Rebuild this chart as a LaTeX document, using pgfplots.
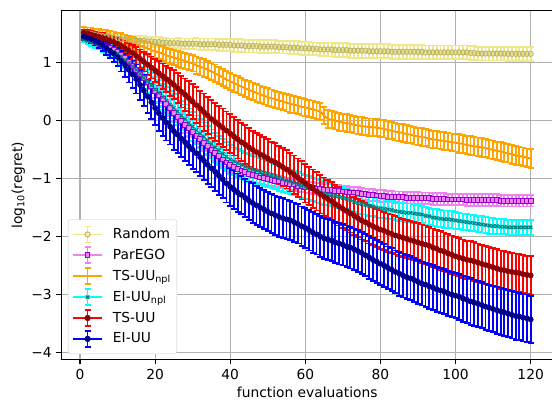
\documentclass[border=0pt]{standalone}
\usepackage{fontspec}
\setmainfont{DejaVu Sans}
\usepackage{pgfplots}
\pgfplotsset{compat=1.18}
\usepackage{pgfplotstable}

\definecolor{khaki}{HTML}{F0E68C}
\definecolor{darkkhaki}{HTML}{BDB76B}
\definecolor{violet}{HTML}{EE82EE}
\definecolor{darkviolet}{HTML}{9400D3}
\definecolor{orange}{HTML}{FFA500}
\definecolor{darkorange}{HTML}{FF8C00}
\definecolor{cyan}{HTML}{00FFFF}
\definecolor{teal}{HTML}{008080}
\definecolor{red}{HTML}{FF0000}
\definecolor{darkred}{HTML}{8B0000}
\definecolor{blue}{HTML}{0000FF}
\definecolor{navy}{HTML}{00008B}
\definecolor{gridgray}{HTML}{B0B0B0}
\definecolor{legendgray}{HTML}{CCCCCC}

% legend image: line, error bar with caps, mark
\newcommand{\legimg}[3]{%
  \draw[#1, line width=1.8pt] (0pt,0pt) -- (29pt,0pt);
  \draw[#1, line width=1.8pt] (14.5pt,-8pt) -- (14.5pt,8pt);
  \draw[#1, line width=1.8pt] (11.5pt,-8pt) -- (17.5pt,-8pt);
  \draw[#1, line width=1.8pt] (11.5pt,8pt) -- (17.5pt,8pt);
  \draw[#2] plot[mark=#3] coordinates {(14.5pt,0pt)};
}

% x, mean and error of each method
\pgfplotstableread{
x R Re P Pe O Oe C Ce T Te B Be
1 1.52 0.05 1.43 0.04 1.58 0.04 1.40 0.05 1.52 0.05 1.45 0.05
2 1.51 0.05 1.41 0.05 1.57 0.04 1.38 0.06 1.51 0.06 1.43 0.06
3 1.50 0.05 1.39 0.05 1.56 0.05 1.36 0.07 1.49 0.06 1.41 0.07
4 1.48 0.06 1.37 0.06 1.54 0.05 1.34 0.08 1.47 0.07 1.38 0.08
5 1.47 0.06 1.34 0.06 1.53 0.06 1.31 0.08 1.45 0.07 1.35 0.09
6 1.46 0.06 1.31 0.07 1.51 0.06 1.28 0.09 1.43 0.08 1.31 0.10
7 1.45 0.06 1.28 0.07 1.50 0.07 1.25 0.10 1.41 0.08 1.26 0.12
8 1.44 0.07 1.25 0.07 1.48 0.07 1.22 0.10 1.38 0.09 1.21 0.13
9 1.43 0.07 1.22 0.08 1.46 0.08 1.19 0.11 1.36 0.09 1.16 0.14
10 1.42 0.07 1.19 0.08 1.44 0.08 1.16 0.12 1.33 0.10 1.10 0.16
11 1.41 0.07 1.14 0.09 1.42 0.09 1.11 0.13 1.29 0.11 1.03 0.18
12 1.41 0.07 1.08 0.09 1.40 0.09 1.05 0.14 1.25 0.12 0.96 0.20
13 1.40 0.07 1.02 0.10 1.37 0.10 1.00 0.15 1.21 0.13 0.88 0.22
14 1.39 0.07 0.95 0.10 1.35 0.10 0.94 0.16 1.17 0.14 0.80 0.24
15 1.39 0.07 0.88 0.11 1.32 0.10 0.88 0.17 1.12 0.15 0.72 0.25
16 1.38 0.08 0.81 0.11 1.30 0.11 0.81 0.18 1.07 0.16 0.62 0.26
17 1.38 0.08 0.74 0.12 1.27 0.11 0.74 0.19 1.02 0.17 0.52 0.27
18 1.37 0.08 0.67 0.12 1.25 0.11 0.68 0.20 0.97 0.18 0.42 0.28
19 1.37 0.08 0.60 0.13 1.22 0.12 0.61 0.21 0.92 0.19 0.32 0.29
20 1.36 0.08 0.52 0.13 1.20 0.12 0.54 0.22 0.87 0.20 0.22 0.30
21 1.36 0.08 0.44 0.14 1.18 0.12 0.48 0.22 0.82 0.21 0.13 0.30
22 1.35 0.08 0.37 0.14 1.16 0.13 0.41 0.23 0.77 0.22 0.05 0.31
23 1.35 0.08 0.29 0.14 1.13 0.13 0.35 0.23 0.72 0.23 -0.03 0.31
24 1.34 0.08 0.22 0.14 1.11 0.13 0.28 0.24 0.67 0.24 -0.10 0.31
25 1.34 0.08 0.14 0.14 1.09 0.13 0.22 0.24 0.62 0.25 -0.18 0.32
26 1.34 0.09 0.07 0.14 1.07 0.14 0.16 0.24 0.56 0.26 -0.24 0.32
27 1.33 0.09 0.00 0.14 1.05 0.14 0.09 0.25 0.50 0.27 -0.31 0.32
28 1.33 0.09 -0.07 0.14 1.03 0.14 0.03 0.25 0.45 0.28 -0.37 0.33
29 1.33 0.09 -0.13 0.14 1.01 0.14 -0.04 0.25 0.39 0.29 -0.44 0.33
30 1.33 0.09 -0.20 0.14 0.99 0.14 -0.10 0.25 0.33 0.30 -0.50 0.33
31 1.33 0.10 -0.26 0.13 0.96 0.15 -0.16 0.25 0.27 0.31 -0.56 0.33
32 1.32 0.10 -0.32 0.13 0.93 0.15 -0.22 0.25 0.21 0.31 -0.63 0.33
33 1.32 0.10 -0.38 0.13 0.91 0.15 -0.28 0.25 0.15 0.32 -0.69 0.33
34 1.32 0.10 -0.44 0.13 0.88 0.15 -0.34 0.25 0.09 0.32 -0.76 0.33
35 1.32 0.10 -0.50 0.13 0.85 0.15 -0.40 0.25 0.03 0.33 -0.82 0.33
36 1.32 0.10 -0.56 0.12 0.82 0.15 -0.46 0.25 -0.02 0.33 -0.88 0.33
37 1.31 0.10 -0.61 0.12 0.78 0.15 -0.51 0.25 -0.07 0.33 -0.95 0.33
38 1.31 0.10 -0.67 0.12 0.75 0.15 -0.57 0.25 -0.12 0.33 -1.01 0.33
39 1.31 0.10 -0.72 0.12 0.71 0.15 -0.62 0.25 -0.17 0.33 -1.08 0.33
40 1.31 0.10 -0.77 0.12 0.68 0.15 -0.67 0.25 -0.22 0.33 -1.14 0.33
41 1.30 0.11 -0.80 0.11 0.65 0.15 -0.70 0.24 -0.27 0.33 -1.19 0.33
42 1.30 0.11 -0.83 0.11 0.62 0.15 -0.73 0.24 -0.32 0.33 -1.24 0.33
43 1.30 0.11 -0.86 0.11 0.59 0.15 -0.76 0.24 -0.37 0.33 -1.28 0.33
44 1.29 0.11 -0.89 0.11 0.56 0.15 -0.79 0.24 -0.41 0.33 -1.33 0.33
45 1.29 0.11 -0.92 0.11 0.53 0.15 -0.82 0.24 -0.46 0.33 -1.38 0.33
46 1.29 0.11 -0.94 0.11 0.51 0.15 -0.84 0.23 -0.50 0.33 -1.42 0.34
47 1.29 0.11 -0.96 0.11 0.48 0.15 -0.86 0.23 -0.54 0.33 -1.46 0.34
48 1.28 0.11 -0.98 0.11 0.46 0.15 -0.88 0.23 -0.58 0.33 -1.50 0.34
49 1.28 0.11 -0.99 0.11 0.43 0.15 -0.90 0.23 -0.61 0.33 -1.53 0.34
50 1.28 0.11 -1.01 0.11 0.41 0.15 -0.92 0.23 -0.65 0.33 -1.57 0.34
51 1.28 0.11 -1.02 0.10 0.39 0.15 -0.94 0.22 -0.69 0.33 -1.60 0.34
52 1.28 0.11 -1.04 0.10 0.37 0.15 -0.96 0.22 -0.72 0.33 -1.63 0.34
53 1.27 0.11 -1.05 0.10 0.35 0.15 -0.99 0.22 -0.76 0.33 -1.66 0.34
54 1.27 0.11 -1.07 0.10 0.33 0.15 -1.01 0.22 -0.80 0.33 -1.68 0.34
55 1.27 0.11 -1.08 0.10 0.31 0.15 -1.03 0.22 -0.84 0.33 -1.70 0.34
56 1.26 0.11 -1.09 0.10 0.29 0.15 -1.05 0.21 -0.89 0.33 -1.72 0.34
57 1.26 0.11 -1.10 0.10 0.28 0.15 -1.07 0.21 -0.93 0.33 -1.75 0.34
58 1.26 0.11 -1.12 0.10 0.26 0.15 -1.10 0.21 -0.98 0.33 -1.78 0.34
59 1.25 0.11 -1.13 0.10 0.24 0.15 -1.12 0.21 -1.03 0.33 -1.82 0.34
60 1.25 0.11 -1.14 0.10 0.23 0.15 -1.14 0.21 -1.08 0.33 -1.85 0.34
61 1.25 0.11 -1.15 0.10 0.21 0.15 -1.16 0.20 -1.13 0.33 -1.89 0.35
62 1.24 0.11 -1.16 0.10 0.20 0.15 -1.18 0.20 -1.17 0.33 -1.93 0.35
63 1.24 0.11 -1.17 0.10 0.18 0.15 -1.21 0.20 -1.22 0.33 -1.96 0.35
64 1.23 0.11 -1.18 0.10 0.16 0.15 -1.23 0.20 -1.27 0.33 -2.00 0.35
65 1.23 0.11 -1.19 0.10 0.09 0.15 -1.25 0.20 -1.31 0.33 -2.03 0.35
66 1.23 0.12 -1.19 0.10 0.03 0.15 -1.27 0.19 -1.35 0.33 -2.05 0.35
67 1.23 0.12 -1.20 0.10 0.02 0.15 -1.28 0.19 -1.39 0.33 -2.07 0.35
68 1.22 0.12 -1.21 0.10 0.00 0.15 -1.30 0.19 -1.44 0.33 -2.10 0.35
69 1.22 0.12 -1.21 0.10 -0.02 0.15 -1.31 0.19 -1.48 0.33 -2.12 0.36
70 1.22 0.12 -1.22 0.10 -0.03 0.15 -1.33 0.19 -1.52 0.33 -2.14 0.36
71 1.22 0.12 -1.23 0.10 -0.04 0.15 -1.35 0.18 -1.56 0.33 -2.17 0.36
72 1.21 0.12 -1.24 0.10 -0.05 0.15 -1.37 0.18 -1.60 0.33 -2.19 0.36
73 1.21 0.12 -1.24 0.10 -0.07 0.15 -1.40 0.18 -1.64 0.33 -2.22 0.36
74 1.21 0.12 -1.25 0.10 -0.08 0.15 -1.42 0.18 -1.68 0.33 -2.25 0.36
75 1.21 0.12 -1.26 0.10 -0.09 0.15 -1.44 0.18 -1.72 0.33 -2.28 0.36
76 1.21 0.12 -1.27 0.10 -0.10 0.15 -1.45 0.17 -1.75 0.33 -2.32 0.36
77 1.20 0.12 -1.28 0.10 -0.11 0.15 -1.47 0.17 -1.79 0.33 -2.36 0.37
78 1.20 0.12 -1.28 0.10 -0.11 0.15 -1.48 0.17 -1.82 0.33 -2.40 0.37
79 1.20 0.12 -1.29 0.10 -0.12 0.15 -1.50 0.17 -1.85 0.33 -2.43 0.37
80 1.20 0.12 -1.30 0.10 -0.13 0.15 -1.51 0.17 -1.88 0.33 -2.47 0.37
81 1.20 0.12 -1.30 0.10 -0.14 0.15 -1.52 0.16 -1.90 0.33 -2.50 0.37
82 1.20 0.12 -1.31 0.10 -0.16 0.15 -1.53 0.16 -1.93 0.33 -2.54 0.37
83 1.19 0.12 -1.31 0.10 -0.17 0.15 -1.54 0.16 -1.95 0.33 -2.57 0.37
84 1.19 0.12 -1.32 0.10 -0.19 0.15 -1.56 0.16 -1.98 0.33 -2.61 0.37
85 1.19 0.12 -1.32 0.10 -0.20 0.15 -1.57 0.16 -2.00 0.33 -2.64 0.38
86 1.19 0.12 -1.32 0.10 -0.21 0.15 -1.58 0.16 -2.02 0.33 -2.67 0.38
87 1.19 0.12 -1.33 0.10 -0.23 0.15 -1.59 0.16 -2.04 0.33 -2.70 0.38
88 1.19 0.12 -1.33 0.10 -0.24 0.15 -1.59 0.16 -2.06 0.33 -2.72 0.38
89 1.19 0.12 -1.33 0.10 -0.26 0.15 -1.60 0.16 -2.08 0.33 -2.75 0.38
90 1.19 0.12 -1.33 0.10 -0.27 0.15 -1.61 0.16 -2.10 0.33 -2.78 0.38
91 1.19 0.12 -1.34 0.10 -0.28 0.15 -1.62 0.15 -2.12 0.33 -2.81 0.38
92 1.18 0.12 -1.34 0.10 -0.29 0.15 -1.64 0.15 -2.14 0.33 -2.83 0.38
93 1.18 0.12 -1.34 0.10 -0.31 0.15 -1.65 0.15 -2.16 0.33 -2.86 0.39
94 1.18 0.12 -1.35 0.10 -0.32 0.15 -1.67 0.15 -2.19 0.33 -2.88 0.39
95 1.18 0.12 -1.35 0.10 -0.33 0.15 -1.68 0.15 -2.21 0.33 -2.91 0.39
96 1.18 0.12 -1.35 0.10 -0.34 0.15 -1.69 0.15 -2.24 0.33 -2.93 0.39
97 1.18 0.12 -1.35 0.10 -0.35 0.15 -1.70 0.15 -2.26 0.33 -2.95 0.39
98 1.18 0.12 -1.36 0.10 -0.36 0.15 -1.70 0.15 -2.29 0.33 -2.98 0.39
99 1.18 0.12 -1.36 0.10 -0.37 0.15 -1.71 0.15 -2.31 0.33 -3.00 0.39
100 1.18 0.12 -1.36 0.10 -0.38 0.15 -1.72 0.15 -2.34 0.33 -3.02 0.39
101 1.18 0.12 -1.36 0.10 -0.39 0.16 -1.73 0.14 -2.36 0.33 -3.04 0.40
102 1.18 0.12 -1.36 0.10 -0.40 0.16 -1.74 0.14 -2.38 0.33 -3.07 0.40
103 1.18 0.12 -1.37 0.10 -0.42 0.16 -1.75 0.14 -2.40 0.33 -3.09 0.40
104 1.17 0.12 -1.37 0.10 -0.43 0.16 -1.76 0.14 -2.41 0.33 -3.12 0.40
105 1.17 0.12 -1.37 0.10 -0.44 0.16 -1.77 0.14 -2.43 0.33 -3.14 0.40
106 1.16 0.12 -1.37 0.10 -0.45 0.16 -1.78 0.14 -2.45 0.33 -3.16 0.40
107 1.16 0.12 -1.37 0.10 -0.46 0.16 -1.79 0.14 -2.47 0.33 -3.18 0.40
108 1.16 0.12 -1.37 0.10 -0.47 0.16 -1.80 0.14 -2.49 0.33 -3.21 0.40
109 1.16 0.12 -1.37 0.10 -0.49 0.16 -1.81 0.14 -2.51 0.33 -3.23 0.40
110 1.16 0.12 -1.37 0.10 -0.50 0.16 -1.82 0.14 -2.53 0.33 -3.25 0.40
111 1.16 0.12 -1.37 0.10 -0.52 0.16 -1.82 0.13 -2.55 0.33 -3.27 0.41
112 1.16 0.12 -1.38 0.10 -0.53 0.16 -1.83 0.13 -2.57 0.33 -3.29 0.41
113 1.16 0.12 -1.38 0.10 -0.55 0.16 -1.83 0.13 -2.58 0.33 -3.31 0.41
114 1.155 0.12 -1.38 0.10 -0.56 0.16 -1.84 0.13 -2.60 0.33 -3.33 0.41
115 1.155 0.12 -1.38 0.10 -0.58 0.16 -1.84 0.13 -2.61 0.33 -3.35 0.41
116 1.155 0.12 -1.38 0.10 -0.60 0.16 -1.84 0.13 -2.62 0.33 -3.37 0.41
117 1.155 0.12 -1.38 0.10 -0.61 0.16 -1.84 0.13 -2.63 0.33 -3.38 0.41
118 1.155 0.12 -1.38 0.10 -0.62 0.16 -1.84 0.13 -2.65 0.33 -3.40 0.41
119 1.155 0.12 -1.38 0.10 -0.64 0.16 -1.84 0.13 -2.66 0.33 -3.41 0.41
120 1.155 0.12 -1.38 0.10 -0.65 0.16 -1.84 0.13 -2.67 0.33 -3.43 0.41
}\data

\begin{document}
\fontsize{13.8}{16.5}\selectfont
\begin{tikzpicture}
\useasboundingbox (-61.4pt,-40.6pt) rectangle (490.6pt,359.4pt);
\begin{axis}[
    scale only axis,
    width=491.6pt, height=348.7pt,
    xmin=-4.95, xmax=125.95,
    ymin=-4.12, ymax=1.9,
    xtick={0,20,...,120},
    ytick={-4,-3,-2,-1,0,1},
    yticklabels={−4,−3,−2,−1,0,1},
    /pgf/number format/assume math mode=true,
    tick pos=left,
    tick align=outside,
    major tick length=4.9pt,
    tick style={black, line width=1.1pt},
    axis line style={line width=1.1pt},
    grid=major,
    major grid style={gridgray, line width=1.1pt},
    xlabel={function evaluations},
    ylabel={log\textsubscript{10}(regret)},
    every axis x label/.style={at={(axis description cs:0.5,-0.0935)}, anchor=center},
    every axis y label/.style={at={(axis description cs:-0.0877,0.5)}, rotate=90, anchor=center},
    legend cell align=left,
    legend style={at={(0,0)}, anchor=south west, xshift=6.6pt, yshift=5.4pt,
        draw=legendgray, rounded corners=2.5pt, fill=white,
        inner xsep=4pt, inner ysep=6pt, row sep=3.1pt, column sep=8pt},
]
\addplot[khaki, line width=1.8pt, mark=o, mark size=2.6pt,
    mark options={draw=darkkhaki, line width=1pt},
    legend image code/.code={\legimg{khaki}{darkkhaki, line width=1pt, mark size=2.6pt}{o}},
    error bars/.cd, y dir=both, y explicit,
    error bar style={khaki, line width=1.8pt},
    error mark options={rotate=90, khaki, line width=1.8pt, mark size=3pt}]
    table[x=x, y=R, y error=Re] {\data};
\addlegendentry{Random}
\addplot[violet, line width=1.8pt, mark=square*, mark size=2.4pt,
    mark options={draw=darkviolet, fill=violet, line width=1pt},
    legend image code/.code={\legimg{violet}{draw=darkviolet, fill=violet, line width=1pt, mark size=2.4pt}{square*}},
    error bars/.cd, y dir=both, y explicit,
    error bar style={violet, line width=1.8pt},
    error mark options={rotate=90, violet, line width=1.8pt, mark size=3pt}]
    table[x=x, y=P, y error=Pe] {\data};
\addlegendentry{ParEGO}
\addplot[darkorange, line width=1.8pt, no marks,
    legend image code/.code={\legimg{orange}{orange}{none}},
    error bars/.cd, y dir=both, y explicit,
    error bar style={orange, line width=1.8pt},
    error mark options={rotate=90, orange, line width=1.8pt, mark size=3pt}]
    table[x=x, y=O, y error=Oe] {\data};
\addlegendentry{TS-UU\textsubscript{npl}}
\addplot[cyan, line width=1.8pt, mark=x, mark size=2.4pt,
    mark options={teal, line width=1.2pt},
    legend image code/.code={\legimg{cyan}{teal, line width=1.2pt, mark size=2.4pt}{x}},
    error bars/.cd, y dir=both, y explicit,
    error bar style={cyan, line width=1.8pt},
    error mark options={rotate=90, cyan, line width=1.8pt, mark size=3pt}]
    table[x=x, y=C, y error=Ce] {\data};
\addlegendentry{EI-UU\textsubscript{npl}}
\addplot[darkred, line width=1.8pt, mark=*, mark size=2.4pt,
    mark options={darkred, fill=darkred, line width=1pt},
    legend image code/.code={\legimg{red}{darkred, fill=darkred, line width=1pt, mark size=2.6pt}{*}},
    error bars/.cd, y dir=both, y explicit,
    error bar style={red, line width=1.8pt},
    error mark options={rotate=90, red, line width=1.8pt, mark size=3pt}]
    table[x=x, y=T, y error=Te] {\data};
\addlegendentry{TS-UU}
\addplot[navy, line width=1.8pt, mark=*, mark size=2.4pt,
    mark options={navy, fill=navy, line width=1pt},
    legend image code/.code={\legimg{blue}{navy, fill=navy, line width=1pt, mark size=2.6pt}{*}},
    error bars/.cd, y dir=both, y explicit,
    error bar style={blue, line width=1.8pt},
    error mark options={rotate=90, blue, line width=1.8pt, mark size=3pt}]
    table[x=x, y=B, y error=Be] {\data};
\addlegendentry{EI-UU}
\end{axis}
\end{tikzpicture}
\end{document}
